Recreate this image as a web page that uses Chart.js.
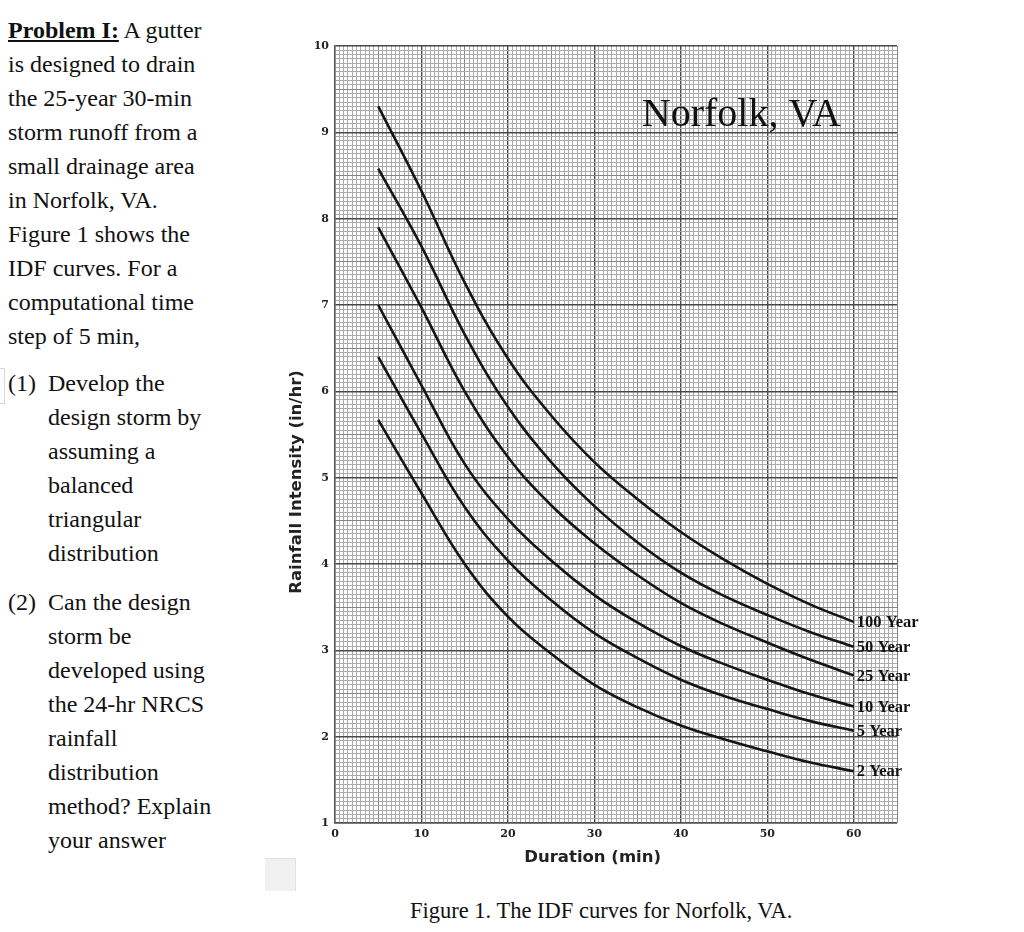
<!DOCTYPE html>
<html>
<head>
<meta charset="utf-8">
<title>IDF curves - Norfolk, VA</title>
<script src="https://cdn.jsdelivr.net/npm/chart.js@4.4.0/dist/chart.umd.min.js"></script>
<style>
  body { margin: 0; width: 1024px; height: 932px; overflow: hidden; position: relative; background: #fff;
         font-family: "Liberation Serif", "Times New Roman", serif; color: #111; }
  .block { position: absolute; left: 8px; font-size: 24px; line-height: 34px; }
  .item .num { position: absolute; left: 0; top: 0; }
  .item .body { margin-left: 40px; }
  .lead { font-weight: bold; text-decoration: underline; }
  #wrap { position: absolute; left: 265px; top: 0; width: 680px; height: 890px; }
  #caption { position: absolute; left: 410px; top: 898px; font-size: 22.5px; white-space: nowrap; }
  #tab { position: absolute; left: 265px; top: 858px; width: 30px; height: 32px; background: #f1f1f1;
         border-top: 1px solid #e2e2e2; border-right: 1px solid #e2e2e2; }
  #bracket { position: absolute; left: 0; top: 368px; width: 4px; height: 34px; border: 1px solid #d6d6d6; border-left: none; }
</style>
</head>
<body>
<div class="block" style="top:13px">
  <span class="lead">Problem I:</span> A gutter<br>
  is designed to drain<br>
  the 25-year 30-min<br>
  storm runoff from a<br>
  small drainage area<br>
  in Norfolk, VA.<br>
  Figure 1 shows the<br>
  IDF curves. For a<br>
  computational time<br>
  step of 5 min,
</div>
<div id="bracket"></div>
<div class="block item" style="top:366px">
  <span class="num">(1)</span>
  <div class="body">Develop the<br>design storm by<br>assuming a<br>balanced<br>triangular<br>distribution</div>
</div>
<div class="block item" style="top:585px">
  <span class="num">(2)</span>
  <div class="body">Can the design<br>storm be<br>developed using<br>the 24-hr NRCS<br>rainfall<br>distribution<br>method? Explain<br>your answer</div>
</div>

<div id="wrap"><canvas id="idf"></canvas></div>
<div id="tab"></div>
<div id="caption">Figure 1. The IDF curves for Norfolk, VA.</div>

<script>
// durations (min) and intensities (in/hr)
const durations = [5, 10, 15, 20, 25, 30, 35, 40, 45, 50, 55, 60];
const year100 = [9.30, 8.32, 7.26, 6.38, 5.72, 5.18, 4.75, 4.37, 4.05, 3.77, 3.53, 3.33];
const year50  = [8.58, 7.68, 6.66, 5.82, 5.18, 4.67, 4.25, 3.90, 3.63, 3.41, 3.21, 3.04];
const year25  = [7.90, 6.97, 6.00, 5.24, 4.68, 4.24, 3.87, 3.55, 3.30, 3.09, 2.89, 2.71];
const year10  = [7.00, 6.07, 5.16, 4.52, 4.04, 3.64, 3.32, 3.05, 2.84, 2.66, 2.49, 2.35];
const year5   = [6.40, 5.51, 4.66, 4.04, 3.58, 3.20, 2.91, 2.66, 2.47, 2.32, 2.18, 2.07];
const year2   = [5.67, 4.82, 4.00, 3.39, 2.96, 2.60, 2.34, 2.13, 1.97, 1.83, 1.70, 1.60];
const seriesNames = ["100 Year", "50 Year", "25 Year", "10 Year", "5 Year", "2 Year"];
const xTickLabels = [0, 10, 20, 30, 40, 50, 60];
const yTickLabels = [1, 2, 3, 4, 5, 6, 7, 8, 9, 10];
const placeName = "Norfolk, VA";
const xTitle = "Duration (min)";
const yTitle = "Rainfall Intensity (in/hr)";

function isMultiple(v, step) {
    const r = v / step;
    return Math.abs(r - Math.round(r)) < 1e-6;
}

// graph-paper grid: heavy every major step, medium at half, light otherwise
function paperColor(v, major) {
    if (isMultiple(v, major)) return "#484848";
    if (isMultiple(v, major / 2)) return "#858585";
    return "#ababab";
}

const allSeries = [year100, year50, year25, year10, year5, year2];

const datasets = allSeries.map((vals, i) => ({
    label: seriesNames[i],
    data: durations.map((d, j) => ({ x: d, y: vals[j] })),
    borderColor: "#151515",
    borderWidth: 2.6,
    pointRadius: 0,
    fill: false,
    tension: 0.4,
}));

// curve names at line ends, place name, axis titles
const annotations = {
    id: "annotations",
    afterDatasetsDraw(chart) {
        const ctx = chart.ctx;
        const xs = chart.scales.x, ys = chart.scales.y;
        ctx.save();
        ctx.fillStyle = "#111";
        ctx.font = 'bold 16.5px "Liberation Serif"';
        ctx.textBaseline = "middle";
        ctx.textAlign = "left";
        chart.data.datasets.forEach((ds, i) => {
            const meta = chart.getDatasetMeta(i);
            const p = meta.data[meta.data.length - 1];
            ctx.fillText(ds.label, p.x + 3, p.y + 1);
        });

        ctx.font = '40px "Liberation Serif"';
        ctx.textAlign = "center";
        ctx.textBaseline = "alphabetic";
        ctx.fillText(placeName, xs.getPixelForValue(47), ys.getPixelForValue(9.07));

        ctx.font = 'bold 16.5px "DejaVu Sans"';
        ctx.textBaseline = "middle";
        ctx.fillStyle = "#222";
        ctx.fillText(xTitle, xs.getPixelForValue(29.8), chart.chartArea.bottom + 35);

        ctx.translate(chart.chartArea.left - 38, ys.getPixelForValue(4.95));
        ctx.rotate(-Math.PI / 2);
        ctx.fillText(yTitle, 0, 0);
        ctx.restore();
    }
};

const ctx = document.getElementById("idf").getContext("2d");

const idfChart = new Chart(ctx, {
    type: "line",
    data: { datasets: datasets },
    options: {
        responsive: true,
        maintainAspectRatio: false,
        animation: false,
        layout: { padding: { top: 46, right: 48, left: 0, bottom: 0 } },
        plugins: {
            legend: { display: false },
            tooltip: { enabled: false },
        },
        scales: {
            x: {
                type: "linear",
                min: 0,
                max: 65,
                afterFit: s => { s.height = 67; },
                ticks: {
                    stepSize: 0.5,
                    autoSkip: false,
                    maxRotation: 0,
                    minRotation: 0,
                    padding: 5,
                    color: "#222",
                    font: { family: "DejaVu Serif", weight: "bold", size: 11 },
                    callback: v => (isMultiple(v, 10) && xTickLabels.includes(Math.round(v))) ? String(Math.round(v)) : "",
                },
                grid: {
                    drawTicks: false,
                    color: c => paperColor(c.tick.value, 10),
                    lineWidth: c => isMultiple(c.tick.value, 10) ? 1.4 : 1,
                },
                border: { color: "#555", width: 1.4 },
            },
            y: {
                min: 1,
                max: 10,
                afterFit: s => { s.width = 70; },
                ticks: {
                    stepSize: 0.05,
                    autoSkip: false,
                    padding: 6,
                    color: "#222",
                    font: { family: "DejaVu Serif", weight: "bold", size: 11 },
                    callback: v => (isMultiple(v, 1) && yTickLabels.includes(Math.round(v))) ? String(Math.round(v)) : "",
                },
                grid: {
                    drawTicks: false,
                    color: c => paperColor(c.tick.value, 1),
                    lineWidth: c => isMultiple(c.tick.value, 1) ? 1.4 : 1,
                },
                border: { color: "#555", width: 1.4 },
            },
        },
    },
    plugins: [annotations],
});
</script>
</body>
</html>
